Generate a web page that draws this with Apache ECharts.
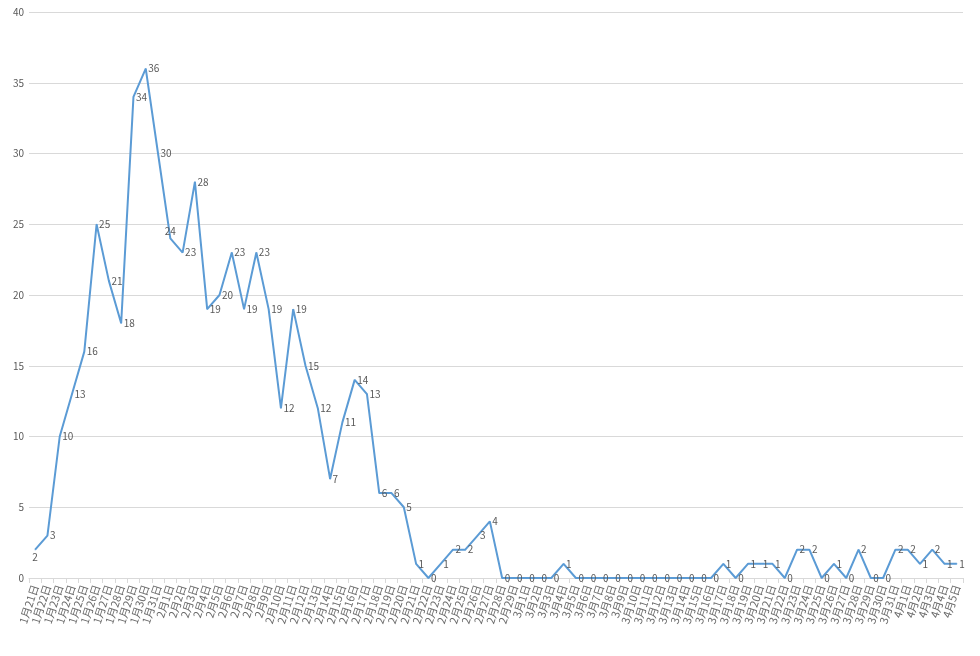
<!DOCTYPE html>
<html>
<head>
<meta charset="utf-8">
<script src="https://cdn.jsdelivr.net/npm/echarts@6/dist/echarts.min.js"></script>
<style>html,body{margin:0;padding:0;background:#fff;}#c{width:980px;height:656px;}</style>
</head>
<body>
<div id="c"></div>
<script>
// Categories: dates 1月21日 .. 4月5日
const months = [1, 2, 3, 4];
const monthDays = [[21, 31], [1, 29], [1, 31], [1, 5]];
const categories = [];
months.forEach((m, k) => {
  for (let d = monthDays[k][0]; d <= monthDays[k][1]; d++) categories.push(m + '月' + d + '日');
});

const values = [
  2, 3, 10, 13, 16, 25, 21, 18, 34, 36,
  30, 24, 23, 28, 19, 20, 23, 19, 23, 19,
  12, 19, 15, 12, 7, 11, 14, 13, 6, 6,
  5, 1, 0, 1, 2, 2, 3, 4, 0, 0,
  0, 0, 0, 1, 0, 0, 0, 0, 0, 0,
  0, 0, 0, 0, 0, 0, 1, 0, 1, 1,
  1, 0, 2, 2, 0, 1, 0, 2, 0, 0,
  2, 2, 1, 2, 1, 1
];

const yTicks = { min: 0, max: 40, interval: 5 };

const FONT = "'Liberation Sans Narrow', 'Noto Sans CJK SC', sans-serif";
const labelOverrides = {
  0: { position: 'bottom', offset: [8, 6] },
  8: { position: 'right', offset: [0, 14] },
  11: { position: 'top', offset: [6, 2] },
  36: { position: 'right', offset: [-2, 4] }
};
const seriesData = values.map((v, i) => {
  const o = { value: v };
  if (labelOverrides[i]) o.label = labelOverrides[i];
  return o;
});

const chart = echarts.init(document.getElementById('c'));
chart.setOption({
  animation: false,
  backgroundColor: '#ffffff',
  grid: { left: 29, right: 17, top: 12, bottom: 78, containLabel: false },
  xAxis: {
    type: 'category',
    data: categories,
    boundaryGap: true,
    axisLine: { lineStyle: { color: '#d9d9d9' } },
    axisTick: { show: true, lineStyle: { color: '#d9d9d9' } },
    axisLabel: { interval: 0, rotate: 72, fontSize: 11, color: '#6b6b6b', fontFamily: FONT, margin: 7 }
  },
  yAxis: {
    type: 'value',
    min: yTicks.min, max: yTicks.max, interval: yTicks.interval,
    axisLine: { show: false },
    axisTick: { show: false },
    splitLine: { lineStyle: { color: '#d9d9d9' } },
    axisLabel: { fontSize: 10, color: '#595959', fontFamily: FONT, margin: 5 }
  },
  series: [{
    type: 'line',
    data: seriesData,
    symbol: 'circle',
    symbolSize: 1,
    showSymbol: true,
    showAllSymbol: true,
    lineStyle: { color: '#5b9bd5', width: 2 },
    itemStyle: { color: '#5b9bd5' },
    labelLayout: { hideOverlap: false },
    label: { show: true, position: 'right', distance: 2, fontSize: 10, color: '#595959', fontFamily: FONT }
  }]
});
</script>
</body>
</html>
